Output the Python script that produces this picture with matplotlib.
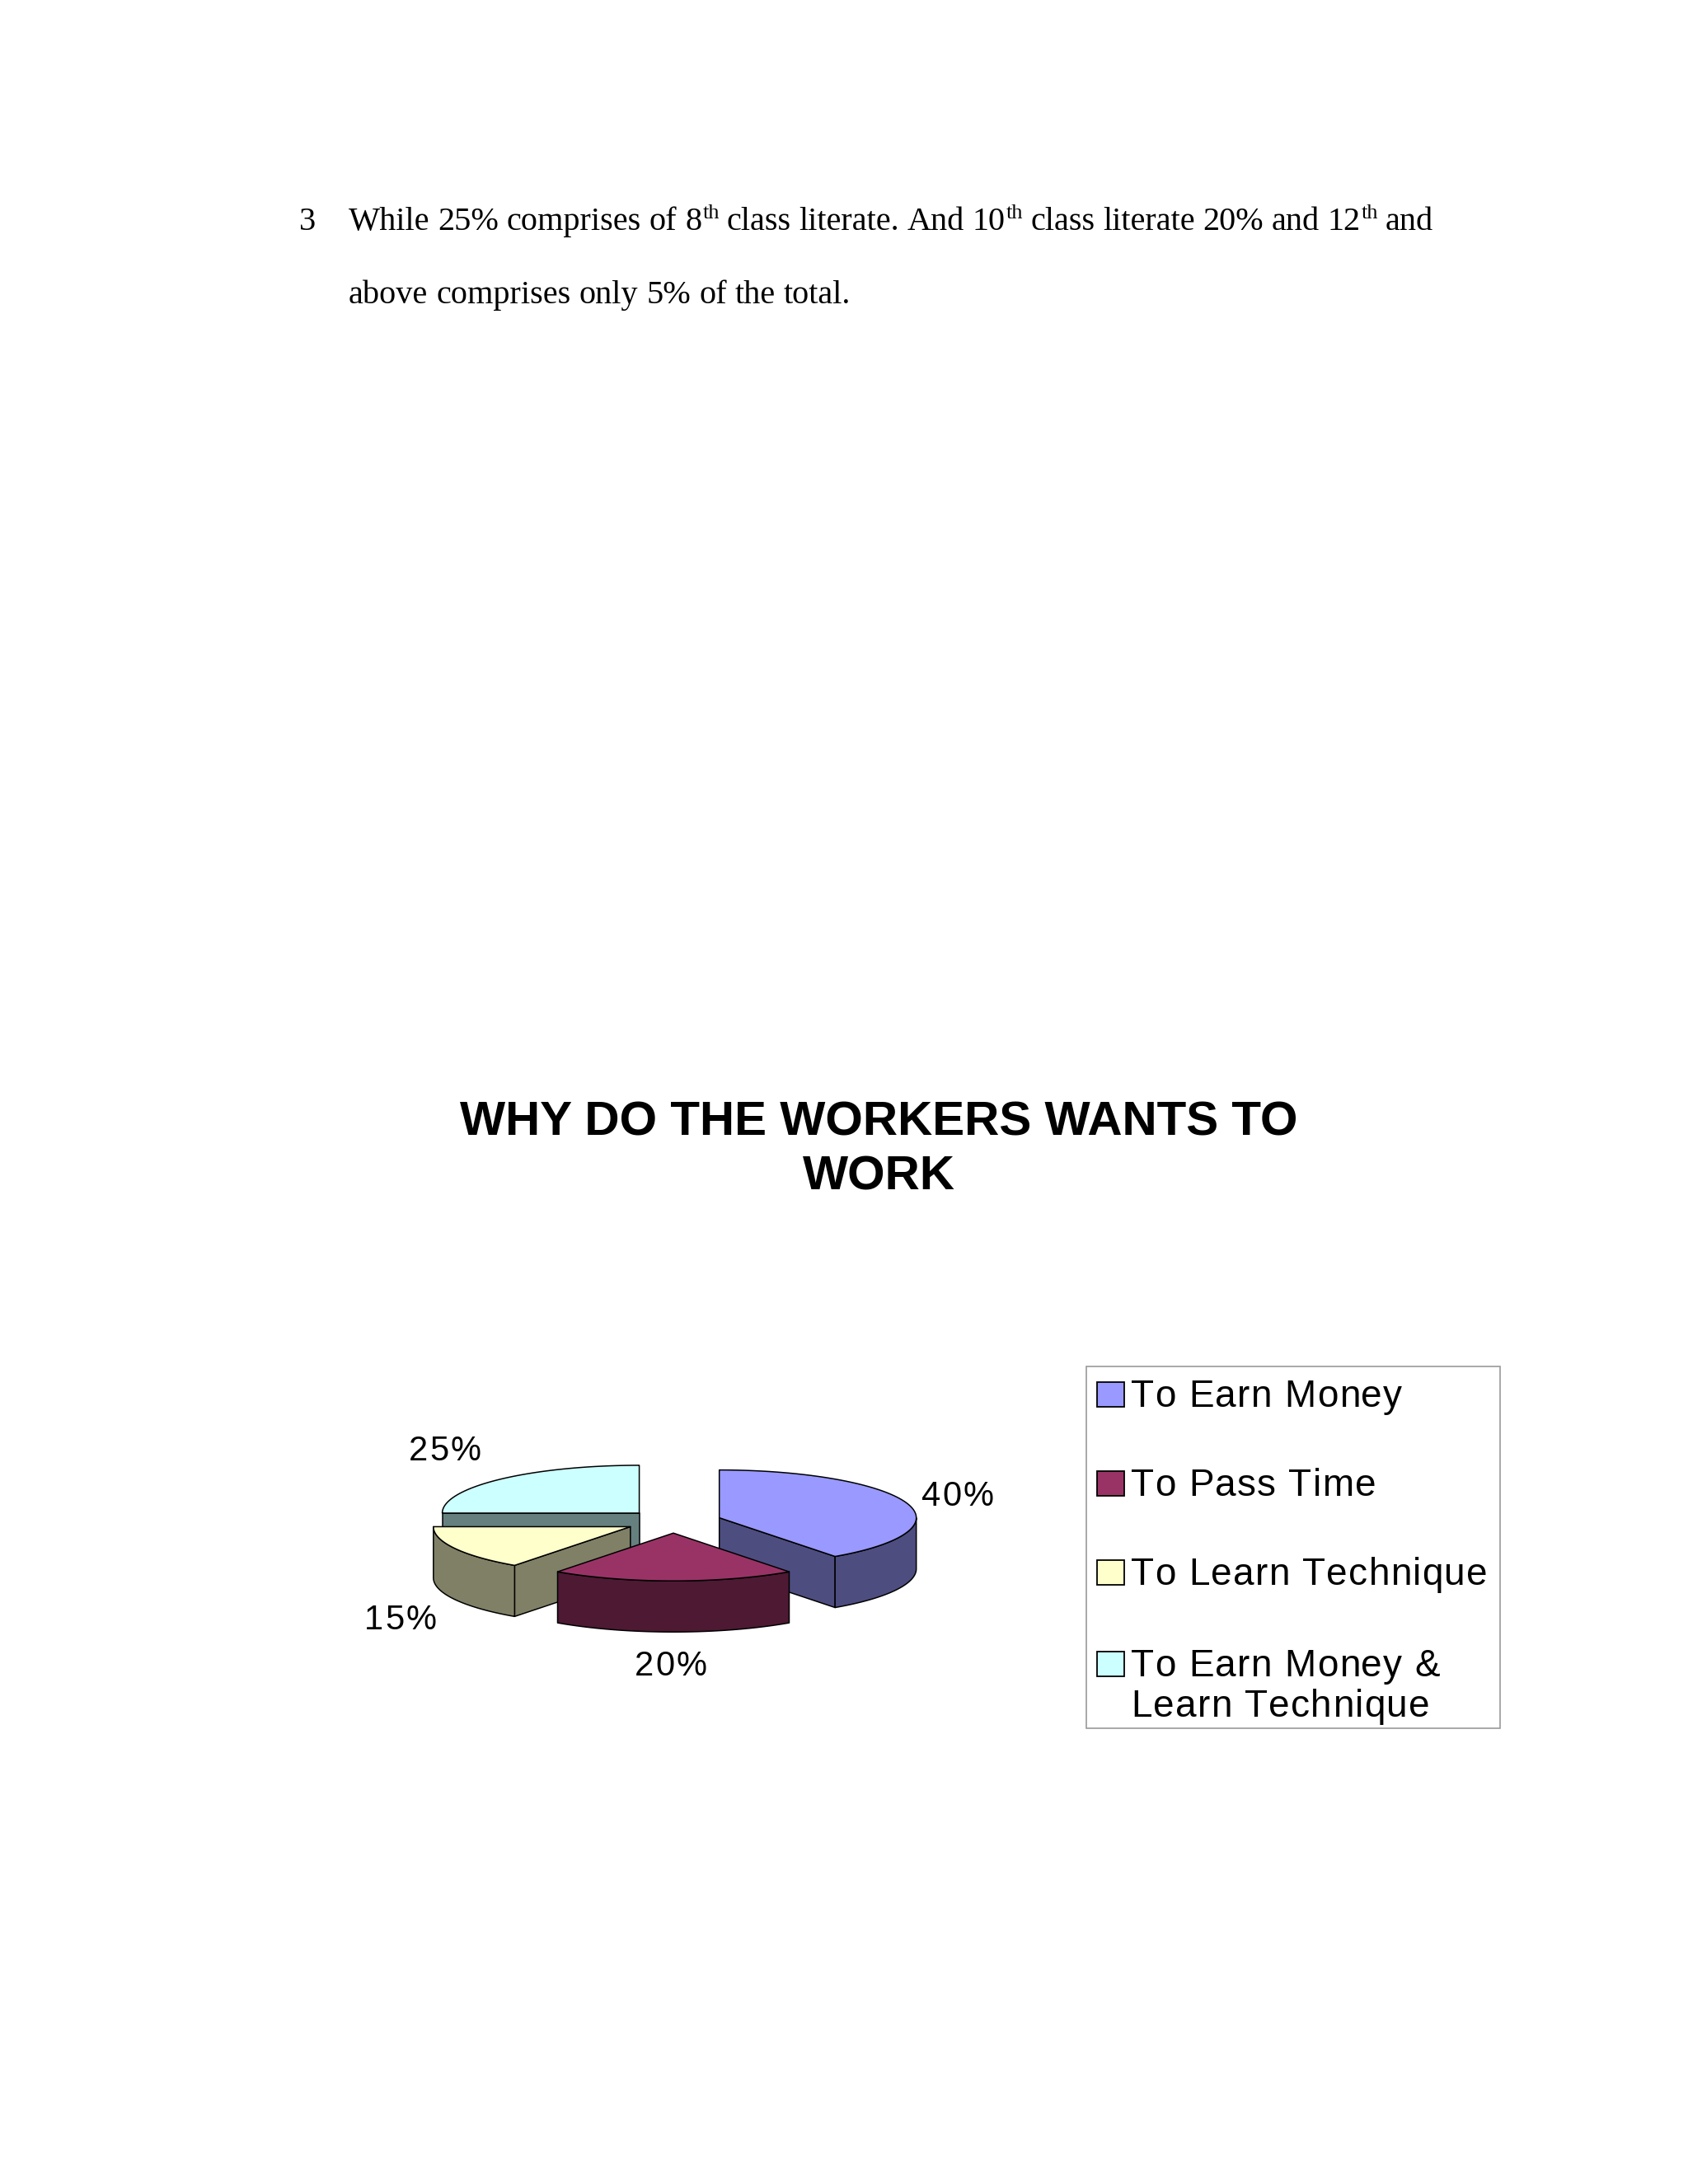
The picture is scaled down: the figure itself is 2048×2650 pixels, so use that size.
import numpy as np
import matplotlib
matplotlib.use("Agg")
import matplotlib.pyplot as plt
from matplotlib.patches import Polygon, Rectangle
from matplotlib import font_manager
from matplotlib.ft2font import FT2Font

# ---------------- data ----------------
categories = ["To Earn Money", "To Pass Time", "To Learn Technique",
              "To Earn Money &\nLearn Technique"]
values = [40, 20, 15, 25]
pct_labels = ["40%", "20%", "15%", "25%"]
top_colors = ["#9999FF", "#993366", "#FFFFCC", "#CCFFFF"]
side_colors = ["#4D4D80", "#4D1933", "#808066", "#668080"]
title_lines = ["WHY DO THE WORKERS WANTS TO", "WORK"]
para_num = "3"
para_line1 = ["While", "25%", "comprises", "of", "8^th", "class", "literate.", "And",
              "10^th", "class", "literate", "20%", "and", "12^th", "and"]
para_line2 = ["above", "comprises", "only", "5%", "of", "the", "total."]

# ---------------- figure ----------------
W, H = 2048, 2650
DPI = 100
fig = plt.figure(figsize=(W / DPI, H / DPI), dpi=DPI)
ax = fig.add_axes([0, 0, 1, 1])
ax.set_xlim(0, W)
ax.set_ylim(H, 0)
ax.axis("off")

SANS = ["Liberation Sans", "DejaVu Sans"]
SERIF = ["Liberation Serif", "DejaVu Serif"]
renderer = fig.canvas.get_renderer()

_sans_path = font_manager.findfont(font_manager.FontProperties(family=SANS))


def advances(s, size_pt):
    f = FT2Font(_sans_path)
    f.set_size(size_pt, DPI)
    out = []
    for ch in s:
        g = f.load_char(ord(ch))
        out.append(g.linearHoriAdvance / 65536.0)
    return out


def tracked_text(x, y, s, track, size, ha="left", **kw):
    """Draw text char by char with extra letter spacing (px)."""
    adv = advances(s, size)
    total = sum(adv) + track * (len(s) - 1)
    if ha == "center":
        x = x - total / 2
    pos = x
    for ch, a in zip(s, adv):
        if ch != " ":
            ax.text(pos, y, ch, ha="left", fontsize=size, family=SANS, **kw)
        pos += a + track


# ---------------- paragraph text ----------------
FS_BODY = 29
SUP_FS = 19
SUP_RISE = 14


def place_words(words, x0, y, x_end=None):
    arts = []
    widths = []
    for w in words:
        parts = w.split("^")
        base = parts[0]
        sup = parts[1] if len(parts) > 1 else ""
        t1 = ax.text(0, y, base, fontsize=FS_BODY, family=SERIF, va="baseline", ha="left")
        w1 = t1.get_window_extent(renderer).width
        t2 = None
        w2 = 0
        if sup:
            t2 = ax.text(0, y - SUP_RISE, sup, fontsize=SUP_FS, family=SERIF,
                         va="baseline", ha="left")
            w2 = t2.get_window_extent(renderer).width
        arts.append((t1, w1, t2))
        widths.append(w1 + w2)
    space = FS_BODY * DPI / 72 * 0.25
    if x_end is not None and len(words) > 1:
        space = max(space * 0.7, (x_end - x0 - sum(widths)) / (len(words) - 1))
    x = x0
    for (t1, w1, t2), wd in zip(arts, widths):
        t1.set_x(x)
        if t2 is not None:
            t2.set_x(x + w1 + 1)
        x += wd + space


ax.text(363, 279, para_num, fontsize=FS_BODY, family=SERIF, va="baseline", ha="left")
place_words(para_line1, 423, 279, x_end=1739)
place_words(para_line2, 423, 368)

# ---------------- title ----------------
TITLE_X = 1066
for line, yb in zip(title_lines, [1377, 1443]):
    ax.text(TITLE_X, yb, line, fontsize=42, fontweight="bold", family=SANS,
            ha="center", va="baseline")

# ---------------- 3D exploded pie ----------------
CX, CY, RX, RY, DEPTH, EXPLODE = 817, 1846, 239, 58, 62, 0.245


def proj(cx, cy, ang_deg, r=1.0):
    a = np.radians(ang_deg)
    return cx + r * RX * np.cos(a), cy - r * RY * np.sin(a)


total = float(sum(values))
cum = np.concatenate([[0], np.cumsum(values)])
slices = []
for i, v in enumerate(values):
    a_hi = 90 - 360 * cum[i] / total
    a_lo = 90 - 360 * cum[i + 1] / total
    mid = np.radians((a_hi + a_lo) / 2)
    cx = CX + EXPLODE * RX * np.cos(mid)
    cy = CY - EXPLODE * RY * np.sin(mid)
    slices.append((i, a_lo, a_hi, cx, cy))

order = sorted(slices, key=lambda s: s[4])
EDGE = dict(edgecolor="black", linewidth=1.1, joinstyle="round")
for z, (i, a_lo, a_hi, cx, cy) in enumerate(order):
    base = 10 + z * 5
    walls = []
    if np.cos(np.radians(a_lo)) > 1e-6:
        walls.append(a_lo)
    if np.cos(np.radians(a_hi)) < -1e-6:
        walls.append(a_hi)
    for a in walls:
        ex, ey = proj(cx, cy, a)
        poly = [(cx, cy), (ex, ey), (ex, ey + DEPTH), (cx, cy + DEPTH)]
        ax.add_patch(Polygon(poly, closed=True, facecolor=side_colors[i], zorder=base, **EDGE))
    t = np.linspace(a_lo, a_hi, 600)
    m = np.sin(np.radians(t)) <= 1e-9
    if m.sum() > 1:
        tt = t[m]
        xs, ys = proj(cx, cy, tt)
        poly = np.column_stack([np.concatenate([xs, xs[::-1]]),
                                np.concatenate([ys, ys[::-1] + DEPTH])])
        ax.add_patch(Polygon(poly, closed=True, facecolor=side_colors[i], zorder=base + 1, **EDGE))
    xs, ys = proj(cx, cy, t)
    poly = np.column_stack([np.concatenate([[cx], xs]), np.concatenate([[cy], ys])])
    ax.add_patch(Polygon(poly, closed=True, facecolor=top_colors[i], zorder=base + 2, **EDGE))

# percentage labels (layout positions: centre x, baseline y)
label_pos = [(1162, 1827), (814, 2033), (486, 1977), (540, 1772)]
for lab, (lx, ly) in zip(pct_labels, label_pos):
    tracked_text(lx, ly, lab, 2.0, 30, ha="center", va="baseline", zorder=50)

# ---------------- legend ----------------
ax.add_patch(Rectangle((1318, 1658), 502, 439, facecolor="white", edgecolor="#9a9a9a",
                       linewidth=1.2, zorder=5))
row_tops = [1677, 1785, 1893, 2004]
for cat, col, top in zip(categories, top_colors, row_tops):
    ax.add_patch(Rectangle((1331, top), 33, 30, facecolor=col, edgecolor="black",
                           linewidth=1.3, zorder=6))
    for k, line in enumerate(cat.split("\n")):
        tracked_text(1372, top + 30 + k * 49, line, 1.3, 33, va="baseline", zorder=6)

fig.savefig("out.png", dpi=DPI, facecolor="white")
